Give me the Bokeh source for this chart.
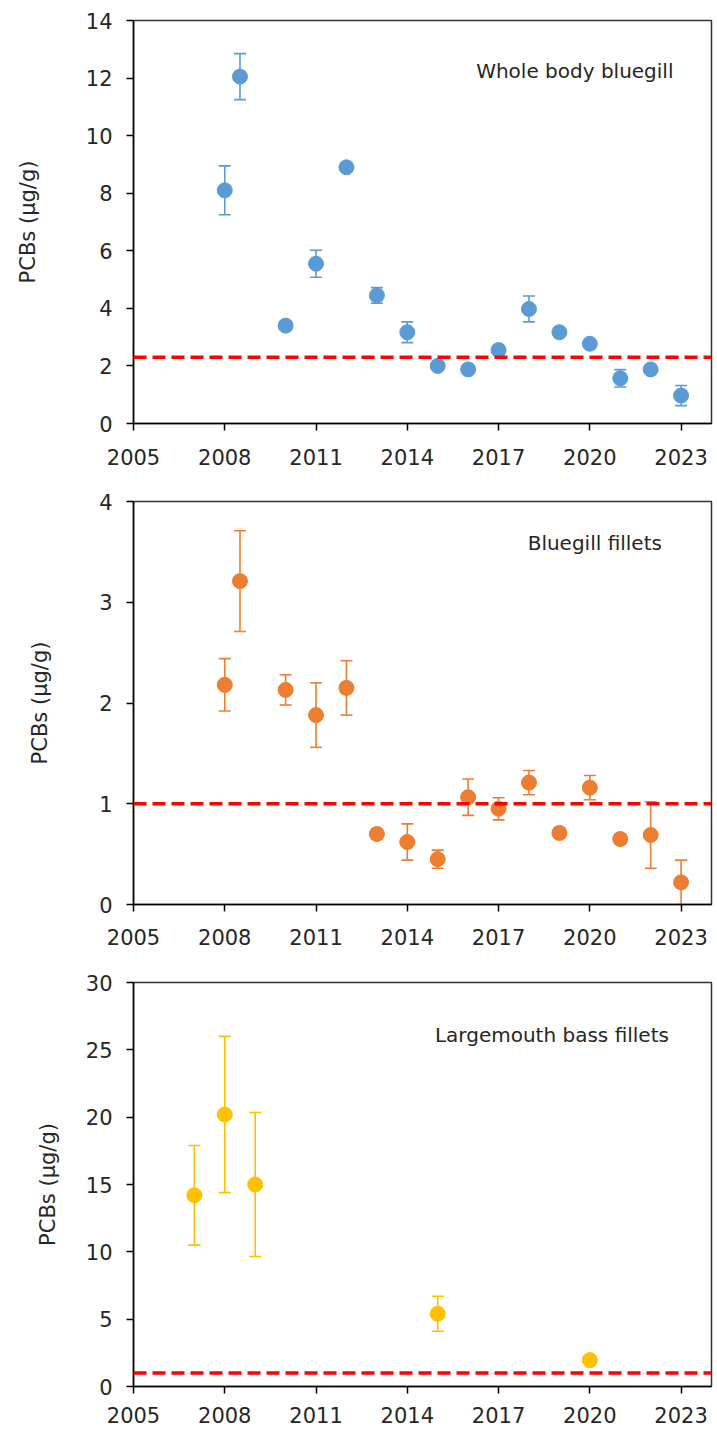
from bokeh.plotting import figure
from bokeh.layouts import column
from bokeh.models import ColumnDataSource, Whisker, TeeHead, Span, Label, FixedTicker, Range1d
from bokeh.embed import file_html
from bokeh.resources import INLINE

# ---------------- data ----------------
x_ticks = [2005, 2008, 2011, 2014, 2017, 2020, 2023]

wb_years = [2008, 2008.5, 2010, 2011, 2012, 2013, 2014, 2015, 2016, 2017, 2018, 2019, 2020, 2021, 2022, 2023]
wb_vals = [8.1, 12.05, 3.4, 5.55, 8.9, 4.45, 3.17, 2.0, 1.88, 2.55, 3.98, 3.17, 2.77, 1.57, 1.88, 0.97]
wb_err = [0.85, 0.8, 0.15, 0.47, 0.12, 0.27, 0.36, 0.12, 0.12, 0.12, 0.45, 0.12, 0.12, 0.3, 0.12, 0.35]
wb_ref = 2.3

bf_years = [2008, 2008.5, 2010, 2011, 2012, 2013, 2014, 2015, 2016, 2017, 2018, 2019, 2020, 2021, 2022, 2023]
bf_vals = [2.18, 3.21, 2.13, 1.88, 2.15, 0.70, 0.62, 0.45, 1.065, 0.95, 1.21, 0.71, 1.16, 0.65, 0.69, 0.22]
bf_err = [0.26, 0.5, 0.15, 0.32, 0.27, 0.05, 0.18, 0.09, 0.18, 0.11, 0.12, 0.05, 0.12, 0.05, 0.33, 0.22]
bf_ref = 1.0

lmb_years = [2007, 2008, 2009, 2015, 2020]
lmb_vals = [14.2, 20.2, 15.0, 5.4, 1.96]
lmb_err = [3.7, 5.8, 5.35, 1.3, 0.3]
lmb_ref = 1.0

FONT = "DejaVu Sans"
TXT = "#262626"


def panel(years, vals, errs, ref, color, ymax, ystep, title, tx, ty,
          height, b_top, b_bottom, b_left, b_right, x_standoff, ylab_standoff):
    p = figure(width=717, height=height, output_backend="svg", toolbar_location=None,
               x_range=Range1d(2005, 2024), y_range=Range1d(0, ymax),
               min_border_top=b_top, min_border_bottom=b_bottom,
               min_border_left=b_left, min_border_right=b_right)
    p.xgrid.grid_line_color = None
    p.ygrid.grid_line_color = None
    p.outline_line_color = "#333333"
    p.outline_line_width = 1.5
    p.background_fill_color = "white"
    p.border_fill_color = "white"

    p.xaxis.ticker = FixedTicker(ticks=x_ticks)
    p.yaxis.ticker = FixedTicker(ticks=list(range(0, ymax + 1, ystep)))
    for ax in (p.xaxis, p.yaxis):
        ax.axis_line_color = "black"
        ax.axis_line_width = 1.5
        ax.major_tick_line_color = "black"
        ax.major_tick_line_width = 1.5
        ax.major_tick_in = 0
        ax.major_tick_out = 7
        ax.minor_tick_line_color = None
        ax.major_label_text_font = FONT
        ax.major_label_text_font_size = "21px"
        ax.major_label_text_color = TXT
    p.xaxis.major_label_standoff = x_standoff
    p.yaxis.major_label_standoff = 14
    p.yaxis.axis_label = "PCBs (µg/g)"
    p.yaxis.axis_label_text_font = FONT
    p.yaxis.axis_label_text_font_size = "21px"
    p.yaxis.axis_label_text_font_style = "normal"
    p.yaxis.axis_label_text_color = TXT
    p.yaxis.axis_label_standoff = ylab_standoff

    src = ColumnDataSource(dict(
        x=years, y=vals,
        upper=[v + e for v, e in zip(vals, errs)],
        lower=[v - e for v, e in zip(vals, errs)],
    ))
    w = Whisker(base="x", upper="upper", lower="lower", source=src,
                line_color=color, line_width=1.6,
                upper_head=TeeHead(size=12, line_color=color, line_width=1.6),
                lower_head=TeeHead(size=12, line_color=color, line_width=1.6))
    p.add_layout(w)
    p.scatter("x", "y", source=src, size=15, marker="circle",
              fill_color=color, line_color=color)

    p.add_layout(Span(location=ref, dimension="width", line_color="#FF0000",
                      line_width=3.5, line_dash="13 6"))

    p.add_layout(Label(x=tx, y=ty, text=title, text_align="right",
                       text_baseline="middle", text_font=FONT,
                       text_font_size="20px", text_color=TXT))
    return p


p1 = panel(wb_years, wb_vals, wb_err, wb_ref, "#5B9BD5", 14, 2,
           "Whole body bluegill", 2022.75, 12.24,
           height=478, b_top=20, b_bottom=55, b_left=133, b_right=6,
           x_standoff=18, ylab_standoff=43)
p2 = panel(bf_years, bf_vals, bf_err, bf_ref, "#ED7D31", 4, 1,
           "Bluegill fillets", 2022.37, 3.59,
           height=478, b_top=23, b_bottom=52, b_left=133, b_right=3,
           x_standoff=17, ylab_standoff=44)
p3 = panel(lmb_years, lmb_vals, lmb_err, lmb_ref, "#FFC000", 30, 5,
           "Largemouth bass fillets", 2022.6, 26.13,
           height=475, b_top=26, b_bottom=45, b_left=133, b_right=6,
           x_standoff=13, ylab_standoff=23)

layout = column(p1, p2, p3, spacing=0)
open("out.html", "w").write(file_html(layout, INLINE))
